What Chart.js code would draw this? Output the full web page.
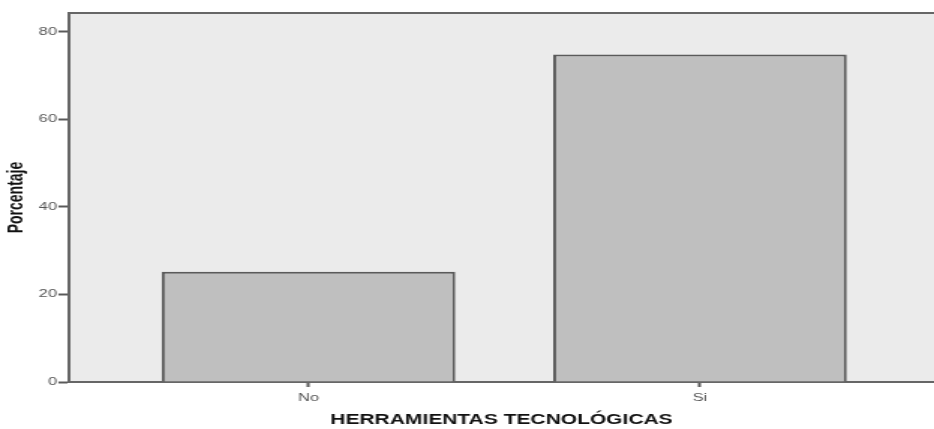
<!DOCTYPE html>
<html>
<head>
<meta charset="utf-8">
<script src="https://cdn.jsdelivr.net/npm/chart.js@4"></script>
<style>
  html, body { margin: 0; padding: 0; background: #fff; overflow: hidden; }
  /* the reference picture is stretched horizontally, so draw narrow and stretch */
  #barChart { display: block; transform: scaleX(1.4992); transform-origin: 0 0; }
</style>
</head>
<body>
<canvas id="barChart" width="623" height="429"></canvas>
<script>
const categories = ['No', 'Si'];
const percentages = [25.2, 74.8];
const yTicks = [0, 20, 40, 60, 80];

// background + top frame line of the plot area
const plotFrame = {
  id: 'plotFrame',
  beforeDraw(chart) {
    const { ctx, chartArea: a } = chart;
    ctx.save();
    ctx.fillStyle = '#ebebeb';
    ctx.fillRect(a.left, a.top, a.right - a.left, a.bottom - a.top);
    ctx.restore();
  },
  afterDraw(chart) {
    const { ctx, chartArea: a } = chart;
    ctx.save();
    ctx.strokeStyle = '#666';
    ctx.lineWidth = 2;
    ctx.beginPath();
    ctx.moveTo(a.left, a.top);
    ctx.lineTo(a.right, a.top);
    ctx.stroke();
    ctx.restore();
  }
};

const ctx = document.getElementById('barChart').getContext('2d');

new Chart(ctx, {
  type: 'bar',
  data: {
    datasets: [{
      data: categories.map((c, i) => ({ x: i, y: percentages[i] })),
      backgroundColor: '#bfbfbf',
      borderColor: '#5a5a5a',
      borderWidth: 2,
      borderSkipped: 'bottom',
      categoryPercentage: 0.75,
      barPercentage: 1
    }]
  },
  options: {
    responsive: false,
    animation: false,
    devicePixelRatio: 1,
    layout: { padding: { top: 13, right: 0, left: 0, bottom: 0 } },
    plugins: {
      legend: { display: false },
      tooltip: { enabled: false }
    },
    scales: {
      x: {
        type: 'linear',
        offset: false,
        min: -0.612,
        max: 1.598,
        afterBuildTicks: (scale) => {
          scale.ticks = categories.map((c, i) => ({ value: i }));
        },
        afterFit: (scale) => { scale.height = 47; },
        grid: {
          offset: false,
          drawOnChartArea: false,
          tickLength: 5,
          tickWidth: 2,
          color: '#5a5a5a'
        },
        border: { color: '#666', width: 2 },
        ticks: {
          color: '#555',
          font: { family: 'Liberation Sans', size: 11 },
          padding: 4,
          autoSkip: false,
          maxRotation: 0,
          callback: (v) => categories[v]
        },
        title: {
          display: true,
          text: 'HERRAMIENTAS TECNOLÓGICAS',
          color: '#111',
          font: { family: 'Liberation Sans', size: 14, weight: 'bold' },
          padding: { top: 4, bottom: 0 }
        }
      },
      y: {
        min: 0,
        max: 84.3,
        afterBuildTicks: (scale) => {
          scale.ticks = yTicks.map(v => ({ value: v }));
        },
        afterFit: (scale) => { scale.width = 46; },
        grid: {
          drawOnChartArea: false,
          tickLength: 7,
          tickWidth: 2,
          color: '#5a5a5a'
        },
        border: { color: '#666', width: 2 },
        ticks: {
          color: '#555',
          font: { family: 'Liberation Sans', size: 11 },
          padding: 1
        },
        title: {
          display: true,
          text: 'Porcentaje',
          color: '#111',
          font: { family: 'Liberation Sans', size: 14, weight: 'bold' },
          padding: { top: 3, bottom: 0 }
        }
      }
    }
  },
  plugins: [plotFrame]
});
</script>
</body>
</html>
